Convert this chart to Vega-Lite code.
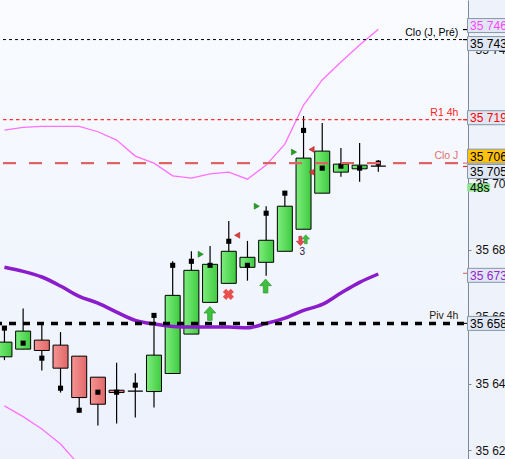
{
  "$schema": "https://vega.github.io/schema/vega-lite/v6.json",
  "width": 468,
  "height": 459,
  "autosize": {"type": "none"},
  "padding": {"left": 0, "top": 0, "right": 37, "bottom": 0},
  "background": "#eef2fb",
  "config": {
    "view": {"stroke": null, "fill": {"gradient": "linear", "x1": 0, "y1": 0, "x2": 0, "y2": 1, "stops": [{"offset": 0, "color": "#f9fbff"}, {"offset": 1, "color": "#ecf1fc"}]}},
    "locale": {"number": {"decimal": ".", "thousands": " ", "grouping": [3], "currency": ["", ""]}},
    "font": "Liberation Sans"
  },
  "resolve": {"axis": {"y": "independent", "x": "independent"}},
  "datasets": {
    "candles": [
      {"i": 0, "open": 35648.0, "high": 35657.0, "low": 35647.0, "close": 35652.4, "sq": 35656.6},
      {"i": 1, "open": 35650.3, "high": 35662.5, "low": 35650.3, "close": 35655.7, "sq": 35652.1},
      {"i": 2, "open": 35653.0, "high": 35657.5, "low": 35643.9, "close": 35649.9, "sq": 35647.6},
      {"i": 3, "open": 35651.5, "high": 35655.4, "low": 35637.3, "close": 35644.6, "sq": 35638.6},
      {"i": 4, "open": 35648.2, "high": 35648.2, "low": 35631.3, "close": 35635.8, "sq": 35632.0},
      {"i": 5, "open": 35641.9, "high": 35641.9, "low": 35627.4, "close": 35633.8, "sq": 35637.4},
      {"i": 6, "open": 35638.0, "high": 35646.2, "low": 35628.0, "close": 35637.3, "sq": 35637.4},
      {"i": 7, "open": 35637.7, "high": 35643.1, "low": 35629.8, "close": 35637.7, "sq": 35639.5},
      {"i": 8, "open": 35637.6, "high": 35660.4, "low": 35632.8, "close": 35648.5, "sq": 35660.4},
      {"i": 9, "open": 35643.0, "high": 35676.6, "low": 35643.0, "close": 35666.4, "sq": 35675.4},
      {"i": 10, "open": 35654.8, "high": 35679.6, "low": 35654.8, "close": 35673.9, "sq": 35676.6},
      {"i": 11, "open": 35664.3, "high": 35681.2, "low": 35664.3, "close": 35675.7, "sq": 35675.4},
      {"i": 12, "open": 35670.0, "high": 35688.7, "low": 35670.0, "close": 35679.6, "sq": 35682.6},
      {"i": 13, "open": 35674.8, "high": 35682.7, "low": 35670.8, "close": 35677.8, "sq": 35675.4},
      {"i": 14, "open": 35676.3, "high": 35693.1, "low": 35672.3, "close": 35682.9, "sq": 35691.0},
      {"i": 15, "open": 35679.6, "high": 35697.7, "low": 35679.6, "close": 35693.1, "sq": 35697.0},
      {"i": 16, "open": 35686.2, "high": 35720.1, "low": 35686.2, "close": 35707.5, "sq": 35715.8},
      {"i": 17, "open": 35697.0, "high": 35718.0, "low": 35697.0, "close": 35709.6, "sq": 35704.5},
      {"i": 18, "open": 35703.3, "high": 35710.5, "low": 35701.9, "close": 35705.7, "sq": 35705.1},
      {"i": 19, "open": 35704.3, "high": 35712.0, "low": 35700.4, "close": 35705.4, "sq": 35704.5},
      {"i": 20, "open": 35705.1, "high": 35706.9, "low": 35703.4, "close": 35705.1, "sq": 35706.0}
    ],
    "ind": [
      {"i": 0, "ma": 35674.8, "up": 35715.9},
      {"i": 1, "ma": 35673.6, "up": 35716.7},
      {"i": 2, "ma": 35671.9, "up": 35717.0},
      {"i": 3, "ma": 35669.2, "up": 35717.0},
      {"i": 4, "ma": 35666.1, "up": 35717.0},
      {"i": 5, "ma": 35664.1, "up": 35715.4},
      {"i": 6, "ma": 35661.4, "up": 35712.9},
      {"i": 7, "ma": 35658.9, "up": 35708.1},
      {"i": 8, "ma": 35657.8, "up": 35706.0},
      {"i": 9, "ma": 35657.1, "up": 35702.2},
      {"i": 10, "ma": 35656.9, "up": 35701.5},
      {"i": 11, "ma": 35656.9, "up": 35702.8},
      {"i": 12, "ma": 35656.9, "up": 35703.3},
      {"i": 13, "ma": 35656.7, "up": 35701.2},
      {"i": 14, "ma": 35658.0, "up": 35705.4},
      {"i": 15, "ma": 35659.6, "up": 35711.7},
      {"i": 16, "ma": 35661.9, "up": 35723.4},
      {"i": 17, "ma": 35663.7, "up": 35730.9},
      {"i": 18, "ma": 35667.1, "up": 35736.3},
      {"i": 19, "ma": 35670.3, "up": 35741.4},
      {"i": 20, "ma": 35672.8, "up": 35746.1}
    ],
    "lower": [
      {"i": 0, "lo": 35633.3},
      {"i": 1, "lo": 35630.1},
      {"i": 2, "lo": 35626.4},
      {"i": 3, "lo": 35621.9},
      {"i": 4, "lo": 35615.6},
      {"i": 5, "lo": 35610.0}
    ],
    "levels": [
      {"name": "clopre", "price": 35743, "label": "Clo (J, Pré)"},
      {"name": "r1", "price": 35719, "label": "R1 4h"},
      {"name": "cloj", "price": 35706, "label": "Clo J"},
      {"name": "piv", "price": 35658, "label": "Piv 4h"}
    ],
    "boxes": [
      {"name": "bb", "price": 35746},
      {"name": "clopre", "price": 35743},
      {"name": "r1", "price": 35719},
      {"name": "cloj", "price": 35706},
      {"name": "last", "price": 35705},
      {"name": "ma", "price": 35673},
      {"name": "piv", "price": 35658}
    ],
    "timer": [
      {"price": 35705, "label": "48s"}
    ],
    "signals": [
      {"i": 10.5, "price": 35678.7, "kind": "triR"},
      {"i": 13.5, "price": 35693.1, "kind": "triR"},
      {"i": 15.49, "price": 35709.3, "kind": "triR"},
      {"i": 12.45, "price": 35684.4, "kind": "triL"},
      {"i": 16.43, "price": 35710.1, "kind": "triL"},
      {"i": 16.43, "price": 35703.3, "kind": "triL"},
      {"i": 10.99, "price": 35661.0, "kind": "upBig"},
      {"i": 13.97, "price": 35669.2, "kind": "upBig"},
      {"i": 16.12, "price": 35683.2, "kind": "upSmall"},
      {"i": 11.98, "price": 35666.7, "kind": "cross"},
      {"i": 15.83, "price": 35682.7, "kind": "downSmall"},
      {"i": 15.93, "price": 35679.5, "kind": "count", "label": "3"}
    ]
  },
  "layer": [
    {
      "data": {"name": "candles"},
      "mark": {"type": "rule", "color": "#000000", "strokeWidth": 1.2, "clip": true},
      "encoding": {
        "x": {"field": "i", "type": "quantitative", "scale": {"domain": [0.03, 24.53], "nice": false}, "axis": null},
        "y": {"field": "low", "type": "quantitative", "scale": {"domain": [35617.4, 35754.85], "nice": false, "zero": false},
          "axis": {"orient": "right", "title": null, "grid": false, "values": [35620, 35640, 35660, 35680, 35700, 35720, 35740], "format": ",d",
            "domainColor": "#7d8b99", "tickColor": "#7d8b99", "tickSize": 3, "labelPadding": 4, "labelFontSize": 12, "labelColor": "#111111",
            "labelFont": "Liberation Sans", "labelOverlap": false, "labelBound": false, "labelFlush": false}},
        "y2": {"field": "high"}
      }
    },
    {
      "data": {"name": "candles"},
      "transform": [{"filter": "datum.close > datum.open"}],
      "mark": {"type": "bar", "size": 15, "clip": true, "stroke": "#000000", "strokeWidth": 1,
        "fill": {"gradient": "linear", "x1": 0, "y1": 0, "x2": 1, "y2": 0, "stops": [{"offset": 0, "color": "#7ded7d"}, {"offset": 1, "color": "#3fcb3f"}]}},
      "encoding": {
        "x": {"field": "i", "type": "quantitative", "scale": {"domain": [0.03, 24.53], "nice": false}, "axis": null},
        "y": {"field": "open", "type": "quantitative", "scale": {"domain": [35617.4, 35754.85], "nice": false, "zero": false}, "axis": null},
        "y2": {"field": "close"}
      }
    },
    {
      "data": {"name": "candles"},
      "transform": [{"filter": "datum.close < datum.open"}],
      "mark": {"type": "bar", "size": 15, "clip": true, "stroke": "#000000", "strokeWidth": 1,
        "fill": {"gradient": "linear", "x1": 0, "y1": 0, "x2": 1, "y2": 0, "stops": [{"offset": 0, "color": "#f69494"}, {"offset": 1, "color": "#e06868"}]}},
      "encoding": {
        "x": {"field": "i", "type": "quantitative", "scale": {"domain": [0.03, 24.53], "nice": false}, "axis": null},
        "y": {"field": "open", "type": "quantitative", "scale": {"domain": [35617.4, 35754.85], "nice": false, "zero": false}, "axis": null},
        "y2": {"field": "close"}
      }
    },
    {
      "data": {"name": "candles"},
      "transform": [{"filter": "datum.close == datum.open"}],
      "mark": {"type": "bar", "size": 15, "clip": true, "stroke": "#000000", "strokeWidth": 1.2, "fill": "#000000"},
      "encoding": {
        "x": {"field": "i", "type": "quantitative", "scale": {"domain": [0.03, 24.53], "nice": false}, "axis": null},
        "y": {"field": "open", "type": "quantitative", "scale": {"domain": [35617.4, 35754.85], "nice": false, "zero": false}, "axis": null},
        "y2": {"field": "close"}
      }
    },
    {
      "data": {"name": "candles"},
      "mark": {"type": "point", "shape": "square", "filled": true, "color": "#000000", "size": 26, "opacity": 1, "clip": true},
      "encoding": {
        "x": {"field": "i", "type": "quantitative", "scale": {"domain": [0.03, 24.53], "nice": false}, "axis": null},
        "y": {"field": "sq", "type": "quantitative", "scale": {"domain": [35617.4, 35754.85], "nice": false, "zero": false}, "axis": null}
      }
    },
    {
      "data": {"name": "ind"},
      "mark": {"type": "line", "color": "#ff70ff", "strokeWidth": 1.3, "clip": true},
      "encoding": {
        "x": {"field": "i", "type": "quantitative", "scale": {"domain": [0.03, 24.53], "nice": false}, "axis": null},
        "y": {"field": "up", "type": "quantitative", "scale": {"domain": [35617.4, 35754.85], "nice": false, "zero": false}, "axis": null}
      }
    },
    {
      "data": {"name": "lower"},
      "mark": {"type": "line", "color": "#ff70ff", "strokeWidth": 1.3, "clip": true},
      "encoding": {
        "x": {"field": "i", "type": "quantitative", "scale": {"domain": [0.03, 24.53], "nice": false}, "axis": null},
        "y": {"field": "lo", "type": "quantitative", "scale": {"domain": [35617.4, 35754.85], "nice": false, "zero": false}, "axis": null}
      }
    },
    {
      "data": {"name": "levels"},
      "transform": [{"filter": "datum.name == 'clopre'"}],
      "mark": {"type": "rule", "color": "#000000", "strokeWidth": 1, "strokeDash": [3, 3]},
      "encoding": {
        "y": {"field": "price", "type": "quantitative", "scale": {"domain": [35617.4, 35754.85], "nice": false, "zero": false}, "axis": null}
      }
    },
    {
      "data": {"name": "levels"},
      "transform": [{"filter": "datum.name == 'r1'"}],
      "mark": {"type": "rule", "color": "#ff0000", "strokeWidth": 1, "strokeDash": [3.5, 3]},
      "encoding": {
        "y": {"field": "price", "type": "quantitative", "scale": {"domain": [35617.4, 35754.85], "nice": false, "zero": false}, "axis": null}
      }
    },
    {
      "data": {"name": "levels"},
      "transform": [{"filter": "datum.name == 'cloj'"}],
      "mark": {"type": "rule", "color": "#dd6464", "strokeWidth": 2.3, "strokeDash": [13, 13], "strokeDashOffset": 16},
      "encoding": {
        "y": {"field": "price", "type": "quantitative", "scale": {"domain": [35617.4, 35754.85], "nice": false, "zero": false}, "axis": null}
      }
    },
    {
      "data": {"name": "ind"},
      "mark": {"type": "line", "color": "#8a1ccb", "strokeWidth": 3.5, "interpolate": "monotone", "clip": true},
      "encoding": {
        "x": {"field": "i", "type": "quantitative", "scale": {"domain": [0.03, 24.53], "nice": false}, "axis": null},
        "y": {"field": "ma", "type": "quantitative", "scale": {"domain": [35617.4, 35754.85], "nice": false, "zero": false}, "axis": null}
      }
    },
    {
      "data": {"name": "levels"},
      "transform": [{"filter": "datum.name == 'piv'"}],
      "mark": {"type": "rule", "color": "#000000", "strokeWidth": 3.5, "strokeDash": [7, 7], "strokeDashOffset": 10},
      "encoding": {
        "y": {"field": "price", "type": "quantitative", "scale": {"domain": [35617.4, 35754.85], "nice": false, "zero": false}, "axis": null}
      }
    },
    {
      "data": {"name": "levels"},
      "mark": {"type": "text", "align": "right", "baseline": "middle", "fontSize": 10.5, "yOffset": -7, "font": "Liberation Sans"},
      "encoding": {
        "x": {"datum": 24.28, "type": "quantitative", "scale": {"domain": [0.03, 24.53], "nice": false}, "axis": null},
        "y": {"field": "price", "type": "quantitative", "scale": {"domain": [35617.4, 35754.85], "nice": false, "zero": false}, "axis": null},
        "text": {"field": "label"},
        "color": {"field": "name", "type": "nominal", "scale": {"domain": ["clopre", "r1", "cloj", "piv"], "range": ["#000000", "#ff2222", "#e07272", "#2a1a0a"]}, "legend": null}
      }
    },
    {
      "data": {"name": "signals"},
      "transform": [{"filter": "datum.kind == 'triR'"}],
      "mark": {"type": "point", "shape": "triangle-right", "filled": true, "fill": "#1fa31f", "stroke": "#136b13", "strokeWidth": 0.5, "size": 36, "opacity": 1},
      "encoding": {
        "x": {"field": "i", "type": "quantitative", "scale": {"domain": [0.03, 24.53], "nice": false}, "axis": null},
        "y": {"field": "price", "type": "quantitative", "scale": {"domain": [35617.4, 35754.85], "nice": false, "zero": false}, "axis": null}
      }
    },
    {
      "data": {"name": "signals"},
      "transform": [{"filter": "datum.kind == 'triL'"}],
      "mark": {"type": "point", "shape": "triangle-left", "filled": true, "fill": "#e23c3c", "stroke": "#9a2020", "strokeWidth": 0.5, "size": 36, "opacity": 1},
      "encoding": {
        "x": {"field": "i", "type": "quantitative", "scale": {"domain": [0.03, 24.53], "nice": false}, "axis": null},
        "y": {"field": "price", "type": "quantitative", "scale": {"domain": [35617.4, 35754.85], "nice": false, "zero": false}, "axis": null}
      }
    },
    {
      "data": {"name": "signals"},
      "transform": [{"filter": "datum.kind == 'upBig'"}],
      "mark": {"type": "point", "shape": "M0,-1L0.85,-0.05L0.33,-0.05L0.33,1L-0.33,1L-0.33,-0.05L-0.85,-0.05Z", "filled": true, "fill": "#3cbf3c", "stroke": "#2a8f2a", "strokeWidth": 0.6, "size": 196, "opacity": 1},
      "encoding": {
        "x": {"field": "i", "type": "quantitative", "scale": {"domain": [0.03, 24.53], "nice": false}, "axis": null},
        "y": {"field": "price", "type": "quantitative", "scale": {"domain": [35617.4, 35754.85], "nice": false, "zero": false}, "axis": null}
      }
    },
    {
      "data": {"name": "signals"},
      "transform": [{"filter": "datum.kind == 'upSmall'"}],
      "mark": {"type": "point", "shape": "M0,-1L0.85,-0.05L0.33,-0.05L0.33,1L-0.33,1L-0.33,-0.05L-0.85,-0.05Z", "filled": true, "fill": "#3cbf3c", "stroke": "#2a8f2a", "strokeWidth": 0.5, "size": 81, "opacity": 1},
      "encoding": {
        "x": {"field": "i", "type": "quantitative", "scale": {"domain": [0.03, 24.53], "nice": false}, "axis": null},
        "y": {"field": "price", "type": "quantitative", "scale": {"domain": [35617.4, 35754.85], "nice": false, "zero": false}, "axis": null}
      }
    },
    {
      "data": {"name": "signals"},
      "transform": [{"filter": "datum.kind == 'downSmall'"}],
      "mark": {"type": "point", "shape": "M0,1L0.85,0.05L0.33,0.05L0.33,-1L-0.33,-1L-0.33,0.05L-0.85,0.05Z", "filled": true, "fill": "#e84848", "stroke": "#a02828", "strokeWidth": 0.5, "size": 90, "opacity": 1},
      "encoding": {
        "x": {"field": "i", "type": "quantitative", "scale": {"domain": [0.03, 24.53], "nice": false}, "axis": null},
        "y": {"field": "price", "type": "quantitative", "scale": {"domain": [35617.4, 35754.85], "nice": false, "zero": false}, "axis": null}
      }
    },
    {
      "data": {"name": "signals"},
      "transform": [{"filter": "datum.kind == 'cross'"}],
      "mark": {"type": "point", "shape": "cross", "angle": 45, "filled": true, "fill": "#e85050", "size": 125, "opacity": 1},
      "encoding": {
        "x": {"field": "i", "type": "quantitative", "scale": {"domain": [0.03, 24.53], "nice": false}, "axis": null},
        "y": {"field": "price", "type": "quantitative", "scale": {"domain": [35617.4, 35754.85], "nice": false, "zero": false}, "axis": null}
      }
    },
    {
      "data": {"name": "signals"},
      "transform": [{"filter": "datum.kind == 'count'"}],
      "mark": {"type": "text", "fontSize": 10, "color": "#1c2040", "align": "center", "baseline": "middle"},
      "encoding": {
        "x": {"field": "i", "type": "quantitative", "scale": {"domain": [0.03, 24.53], "nice": false}, "axis": null},
        "y": {"field": "price", "type": "quantitative", "scale": {"domain": [35617.4, 35754.85], "nice": false, "zero": false}, "axis": null},
        "text": {"field": "label"}
      }
    },
    {
      "data": {"name": "boxes"},
      "mark": {"type": "rule", "strokeWidth": 1.2},
      "encoding": {
        "x": {"datum": 24.53, "type": "quantitative", "scale": {"domain": [0.03, 24.53], "nice": false}, "axis": null},
        "x2": {"datum": 24.78},
        "y": {"field": "price", "type": "quantitative", "scale": {"domain": [35617.4, 35754.85], "nice": false, "zero": false}, "axis": null},
        "color": {"field": "name", "type": "nominal", "scale": {"domain": ["bb", "clopre", "r1", "cloj", "last", "ma", "piv"], "range": ["#ff44ff", "#000000", "#ff0000", "#000000", "#000000", "#9922cc", "#000000"]}, "legend": null}
      }
    },
    {
      "data": {"name": "boxes"},
      "transform": [{"filter": "datum.name == 'bb'"}],
      "mark": {"type": "point", "shape": "M-1,-0.35H1V0.35H-1Z", "size": 1600, "filled": true, "fill": "#dfe7f4", "stroke": "#8797a8", "strokeWidth": 1, "opacity": 1, "yOffset": -4},
      "encoding": {
        "x": {"datum": 25.84, "type": "quantitative", "scale": {"domain": [0.03, 24.53], "nice": false}, "axis": null},
        "y": {"field": "price", "type": "quantitative", "scale": {"domain": [35617.4, 35754.85], "nice": false, "zero": false}, "axis": null}
      }
    },
    {
      "data": {"name": "boxes"},
      "transform": [{"filter": "datum.name == 'bb'"}],
      "mark": {"type": "text", "align": "left", "baseline": "middle", "fontSize": 12, "color": "#ff44ff", "yOffset": -3.5},
      "encoding": {
        "x": {"datum": 24.91, "type": "quantitative", "scale": {"domain": [0.03, 24.53], "nice": false}, "axis": null},
        "y": {"field": "price", "type": "quantitative", "scale": {"domain": [35617.4, 35754.85], "nice": false, "zero": false}, "axis": null},
        "text": {"field": "price", "type": "quantitative", "format": ",d"}
      }
    },
    {
      "data": {"name": "boxes"},
      "transform": [{"filter": "datum.name == 'clopre'"}],
      "mark": {"type": "point", "shape": "M-1,-0.35H1V0.35H-1Z", "size": 1600, "filled": true, "fill": "#dfe7f4", "stroke": "#8797a8", "strokeWidth": 1, "opacity": 1, "yOffset": 4},
      "encoding": {
        "x": {"datum": 25.84, "type": "quantitative", "scale": {"domain": [0.03, 24.53], "nice": false}, "axis": null},
        "y": {"field": "price", "type": "quantitative", "scale": {"domain": [35617.4, 35754.85], "nice": false, "zero": false}, "axis": null}
      }
    },
    {
      "data": {"name": "boxes"},
      "transform": [{"filter": "datum.name == 'clopre'"}],
      "mark": {"type": "text", "align": "left", "baseline": "middle", "fontSize": 12, "color": "#000000", "yOffset": 4.5},
      "encoding": {
        "x": {"datum": 24.91, "type": "quantitative", "scale": {"domain": [0.03, 24.53], "nice": false}, "axis": null},
        "y": {"field": "price", "type": "quantitative", "scale": {"domain": [35617.4, 35754.85], "nice": false, "zero": false}, "axis": null},
        "text": {"field": "price", "type": "quantitative", "format": ",d"}
      }
    },
    {
      "data": {"name": "boxes"},
      "transform": [{"filter": "datum.name == 'r1'"}],
      "mark": {"type": "point", "shape": "M-1,-0.35H1V0.35H-1Z", "size": 1600, "filled": true, "fill": "#dfe7f4", "stroke": "#8797a8", "strokeWidth": 1, "opacity": 1, "yOffset": -2},
      "encoding": {
        "x": {"datum": 25.84, "type": "quantitative", "scale": {"domain": [0.03, 24.53], "nice": false}, "axis": null},
        "y": {"field": "price", "type": "quantitative", "scale": {"domain": [35617.4, 35754.85], "nice": false, "zero": false}, "axis": null}
      }
    },
    {
      "data": {"name": "boxes"},
      "transform": [{"filter": "datum.name == 'r1'"}],
      "mark": {"type": "text", "align": "left", "baseline": "middle", "fontSize": 12, "color": "#ff0000", "yOffset": -1.5},
      "encoding": {
        "x": {"datum": 24.91, "type": "quantitative", "scale": {"domain": [0.03, 24.53], "nice": false}, "axis": null},
        "y": {"field": "price", "type": "quantitative", "scale": {"domain": [35617.4, 35754.85], "nice": false, "zero": false}, "axis": null},
        "text": {"field": "price", "type": "quantitative", "format": ",d"}
      }
    },
    {
      "data": {"name": "boxes"},
      "transform": [{"filter": "datum.name == 'cloj'"}],
      "mark": {"type": "point", "shape": "M-1,-0.35H1V0.35H-1Z", "size": 1600, "filled": true, "fill": "#ffc20a", "stroke": "#8797a8", "strokeWidth": 1, "opacity": 1, "yOffset": -7},
      "encoding": {
        "x": {"datum": 25.84, "type": "quantitative", "scale": {"domain": [0.03, 24.53], "nice": false}, "axis": null},
        "y": {"field": "price", "type": "quantitative", "scale": {"domain": [35617.4, 35754.85], "nice": false, "zero": false}, "axis": null}
      }
    },
    {
      "data": {"name": "boxes"},
      "transform": [{"filter": "datum.name == 'cloj'"}],
      "mark": {"type": "text", "align": "left", "baseline": "middle", "fontSize": 12, "color": "#000000", "yOffset": -6.5},
      "encoding": {
        "x": {"datum": 24.91, "type": "quantitative", "scale": {"domain": [0.03, 24.53], "nice": false}, "axis": null},
        "y": {"field": "price", "type": "quantitative", "scale": {"domain": [35617.4, 35754.85], "nice": false, "zero": false}, "axis": null},
        "text": {"field": "price", "type": "quantitative", "format": ",d"}
      }
    },
    {
      "data": {"name": "boxes"},
      "transform": [{"filter": "datum.name == 'last'"}],
      "mark": {"type": "point", "shape": "M-1,-0.35H1V0.35H-1Z", "size": 1600, "filled": true, "fill": "#dfe7f4", "stroke": "#8797a8", "strokeWidth": 1, "opacity": 1, "yOffset": 5},
      "encoding": {
        "x": {"datum": 25.84, "type": "quantitative", "scale": {"domain": [0.03, 24.53], "nice": false}, "axis": null},
        "y": {"field": "price", "type": "quantitative", "scale": {"domain": [35617.4, 35754.85], "nice": false, "zero": false}, "axis": null}
      }
    },
    {
      "data": {"name": "boxes"},
      "transform": [{"filter": "datum.name == 'last'"}],
      "mark": {"type": "text", "align": "left", "baseline": "middle", "fontSize": 12, "color": "#000000", "yOffset": 5.5},
      "encoding": {
        "x": {"datum": 24.91, "type": "quantitative", "scale": {"domain": [0.03, 24.53], "nice": false}, "axis": null},
        "y": {"field": "price", "type": "quantitative", "scale": {"domain": [35617.4, 35754.85], "nice": false, "zero": false}, "axis": null},
        "text": {"field": "price", "type": "quantitative", "format": ",d"}
      }
    },
    {
      "data": {"name": "timer"},
      "mark": {"type": "point", "shape": "M-1,-0.32H1V0.32H-1Z", "size": 484, "filled": true, "fill": "#8fe68f", "stroke": "#8fe68f", "strokeWidth": 1, "opacity": 1, "yOffset": 21},
      "encoding": {
        "x": {"datum": 25.37, "type": "quantitative", "scale": {"domain": [0.03, 24.53], "nice": false}, "axis": null},
        "y": {"field": "price", "type": "quantitative", "scale": {"domain": [35617.4, 35754.85], "nice": false, "zero": false}, "axis": null}
      }
    },
    {
      "data": {"name": "timer"},
      "mark": {"type": "text", "align": "left", "baseline": "middle", "fontSize": 12, "color": "#000000", "yOffset": 21.5},
      "encoding": {
        "x": {"datum": 24.91, "type": "quantitative", "scale": {"domain": [0.03, 24.53], "nice": false}, "axis": null},
        "y": {"field": "price", "type": "quantitative", "scale": {"domain": [35617.4, 35754.85], "nice": false, "zero": false}, "axis": null},
        "text": {"field": "label"}
      }
    },
    {
      "data": {"name": "boxes"},
      "transform": [{"filter": "datum.name == 'ma'"}],
      "mark": {"type": "point", "shape": "M-1,-0.35H1V0.35H-1Z", "size": 1600, "filled": true, "fill": "#dfe7f4", "stroke": "#8797a8", "strokeWidth": 1, "opacity": 1, "yOffset": 2},
      "encoding": {
        "x": {"datum": 25.84, "type": "quantitative", "scale": {"domain": [0.03, 24.53], "nice": false}, "axis": null},
        "y": {"field": "price", "type": "quantitative", "scale": {"domain": [35617.4, 35754.85], "nice": false, "zero": false}, "axis": null}
      }
    },
    {
      "data": {"name": "boxes"},
      "transform": [{"filter": "datum.name == 'ma'"}],
      "mark": {"type": "text", "align": "left", "baseline": "middle", "fontSize": 12, "color": "#9922cc", "yOffset": 2.5},
      "encoding": {
        "x": {"datum": 24.91, "type": "quantitative", "scale": {"domain": [0.03, 24.53], "nice": false}, "axis": null},
        "y": {"field": "price", "type": "quantitative", "scale": {"domain": [35617.4, 35754.85], "nice": false, "zero": false}, "axis": null},
        "text": {"field": "price", "type": "quantitative", "format": ",d"}
      }
    },
    {
      "data": {"name": "boxes"},
      "transform": [{"filter": "datum.name == 'piv'"}],
      "mark": {"type": "point", "shape": "M-1,-0.35H1V0.35H-1Z", "size": 1600, "filled": true, "fill": "#dfe7f4", "stroke": "#8797a8", "strokeWidth": 1, "opacity": 1},
      "encoding": {
        "x": {"datum": 25.84, "type": "quantitative", "scale": {"domain": [0.03, 24.53], "nice": false}, "axis": null},
        "y": {"field": "price", "type": "quantitative", "scale": {"domain": [35617.4, 35754.85], "nice": false, "zero": false}, "axis": null}
      }
    },
    {
      "data": {"name": "boxes"},
      "transform": [{"filter": "datum.name == 'piv'"}],
      "mark": {"type": "text", "align": "left", "baseline": "middle", "fontSize": 12, "color": "#000000", "yOffset": 0.5},
      "encoding": {
        "x": {"datum": 24.91, "type": "quantitative", "scale": {"domain": [0.03, 24.53], "nice": false}, "axis": null},
        "y": {"field": "price", "type": "quantitative", "scale": {"domain": [35617.4, 35754.85], "nice": false, "zero": false}, "axis": null},
        "text": {"field": "price", "type": "quantitative", "format": ",d"}
      }
    }
  ]
}
